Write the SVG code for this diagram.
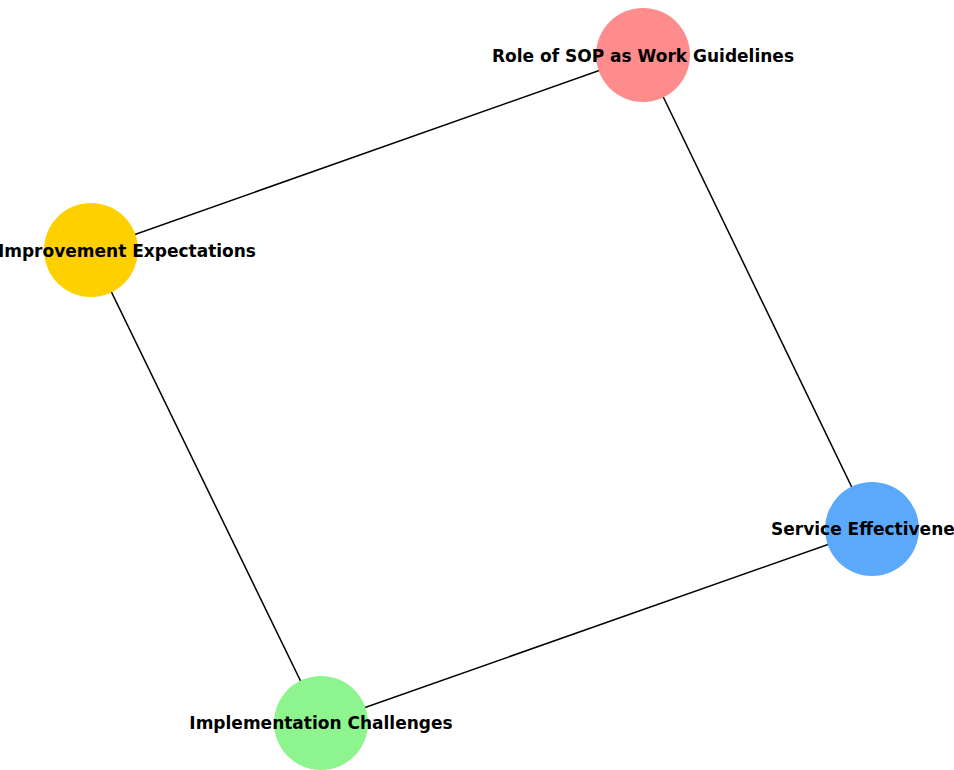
<svg xmlns="http://www.w3.org/2000/svg" width="954" height="770" viewBox="0 0 954 770">
<style>
.edge{stroke:#000;stroke-width:1.5;fill:none}
.lbl{font-family:"DejaVu Sans",sans-serif;font-weight:bold;font-size:17px;fill:#000;text-anchor:middle;dominant-baseline:central}
</style>
<rect width="954" height="770" fill="#fff"/>
<g id="connectors">
<line class="edge" x1="643" y1="55" x2="91" y2="250"/>
<line class="edge" x1="643" y1="55" x2="872" y2="529"/>
<line class="edge" x1="91" y1="250" x2="321" y2="723"/>
<line class="edge" x1="321" y1="723" x2="872" y2="529"/>
</g>
<g id="node-sop">
<circle cx="643" cy="55" r="47" fill="#ff8c8c"/>
<text class="lbl" x="643" y="56">Role of SOP as Work Guidelines</text>
</g>
<g id="node-improvement">
<circle cx="91" cy="250" r="47" fill="#ffd000"/>
<text class="lbl" x="256" y="251" style="text-anchor:end">Improvement Expectations</text>
</g>
<g id="node-service">
<circle cx="872" cy="529" r="47" fill="#5aa9fa"/>
<text class="lbl" x="873" y="529">Service Effectiveness</text>
</g>
<g id="node-implementation">
<circle cx="321" cy="723" r="47" fill="#8ef58e"/>
<text class="lbl" x="321" y="723">Implementation Challenges</text>
</g>
</svg>
